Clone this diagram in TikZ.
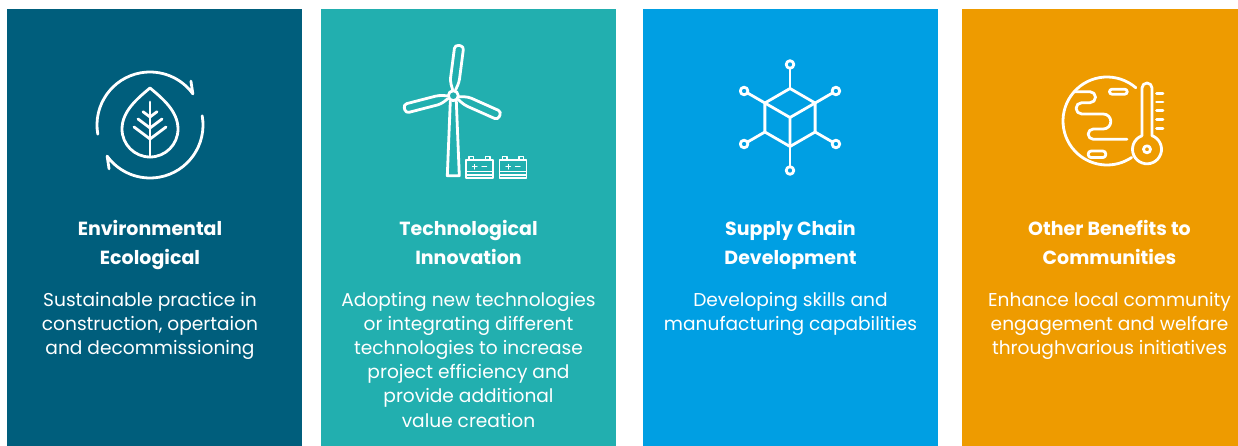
\documentclass[tikz,border=0pt]{standalone}
\usepackage{fontspec}
\setmainfont{Poppins}
\usetikzlibrary{positioning}
\definecolor{envblue}{RGB}{0,94,124}
\definecolor{techteal}{RGB}{34,175,175}
\definecolor{supplyblue}{RGB}{0,159,227}
\definecolor{otherorange}{RGB}{238,155,0}

\begin{document}
\begin{tikzpicture}[x=1pt, y=1pt,
	panel/.style={minimum width=295pt, minimum height=437pt, inner sep=0pt},
	title/.style={text=white, align=center, inner sep=0pt, font=\bfseries\fontsize{19}{29}\selectfont},
	body/.style={text=white, align=center, inner sep=0pt, font=\fontsize{18.6}{24.2}\selectfont},
	icon/.style={draw=white, line width=2.8pt, line cap=round, line join=round},
	thinicon/.style={draw=white, line width=1.3pt, line cap=round, line join=round}]
	\useasboundingbox (0,0) rectangle (1238,-446);
	\clip (0,0) rectangle (1238,-446);

	\node (p1) [panel, fill=envblue] at (154.5,-227.5) {};
	\node (p2) [panel, fill=techteal] at (468.5,-227.5) {};
	\node (p3) [panel, fill=supplyblue] at (790.5,-227.5) {};
	\node (p4) [panel, fill=otherorange] at (1109.5,-227.5) {};

	\node (t1) [title, below=211pt of p1.north, xshift=-4.5pt] {Environmental\\Ecological};
	\node (t2) [title, below=211pt of p2.north] {Technological\\Innovation};
	\node (t3) [title, below=211pt of p3.north] {Supply Chain\\Development};
	\node (t4) [title, below=211pt of p4.north] {Other Benefits to\\Communities};

	\node (b1) [body, below=283pt of p1.north, xshift=-4.5pt] {Sustainable practice in\\construction, opertaion\\and decommissioning};
	\node (b2) [body, below=283pt of p2.north] {Adopting new technologies\\or integrating different\\technologies to increase\\project efficiency and\\provide additional\\value creation};
	\node (b3) [body, below=283pt of p3.north] {Developing skills and\\manufacturing capabilities};
	\node (b4) [body, below=283pt of p4.north] {Enhance local community\\engagement and welfare\\throughvarious initiatives};

	% leaf in circular arrows
	\begin{scope}[shift={(150,-125)}]
		\draw [icon] (190:53) arc [start angle=190, end angle=36, radius=53] -- (47:60);
		\draw [icon] (10:53) arc [start angle=10, end angle=-144, radius=53] -- (-133:60);
		\draw [icon] (0,37) .. controls (12,27) and (28,14) .. (28,-4)
			arc [start angle=0, end angle=-180, radius=28] .. controls (-28,14) and (-12,27) .. cycle;
		\draw [icon] (0,23) -- (0,-32);
		\foreach \y/\w in {8/7, -3/12, -14/16}
			\draw [icon] (-\w,\y+0.75*\w) -- (0,\y) -- (\w,\y+0.75*\w);
	\end{scope}

	% wind turbine and batteries
	\begin{scope}[shift={(453.3,-95.7)}]
		\draw [icon] (0,0) circle [radius=5];
		\draw [icon] (-3,-5.5) -- (-6,-80) -- (6,-80) -- (3,-5.5);
		\foreach \a in {82.6, 194.5, 336}
			\draw [icon, rotate=\a, rounded corners=3.5pt] (6,1.5) -- (14,5) -- (50.5,5) -- (50.5,-4) -- (14,-4) -- (6,-1.5);
	\end{scope}
	\foreach \bx in {466,499.5} {
		\draw [thinicon] (\bx,-178) rectangle ++(27,18);
		\draw [thinicon] (\bx+3,-160) -- ++(0,3.5) -- ++(4.5,0) -- ++(0,-3.5);
		\draw [thinicon] (\bx+19.5,-160) -- ++(0,3.5) -- ++(4.5,0) -- ++(0,-3.5);
		\draw [thinicon] (\bx+6.5,-166.7) -- ++(4.5,0) (\bx+8.75,-164.45) -- ++(0,-4.5);
		\draw [thinicon] (\bx+16,-166.7) -- ++(4.5,0);
		\draw [thinicon] (\bx,-171.7) -- ++(27,0) (\bx,-175) -- ++(27,0);
	}

	% cube network
	\begin{scope}[shift={(790,-117.5)}]
		\foreach \a in {30,90,...,330} {
			\draw [icon] (\a:29) -- (\a:49.2);
			\draw [icon] (\a:53) circle [radius=3.8];
		}
		\draw [icon] (30:29) -- (90:29) -- (150:29) -- (210:29) -- (270:29) -- (330:29) -- cycle;
		\draw [icon] (150:29) -- (0,0) -- (30:29) (0,0) -- (270:29);
	\end{scope}

	% globe and thermometer
	\begin{scope}[shift={(1107,-121)}]
		\draw [icon] (49:44) arc [start angle=49, end angle=304, radius=44];
		\draw [icon] (-32.8,29.3) -- (-17,29.3) arc [start angle=90, end angle=-90, radius=5.5]
			-- (-25.3,18.3) arc [start angle=90, end angle=270, radius=5.65]
			-- (-3.7,7) arc [start angle=90, end angle=-90, radius=7.5]
			-- (-13.7,-8) arc [start angle=90, end angle=270, radius=5.15]
			-- (20,-18.3);
		\draw [icon, rounded corners=2.5pt] (2.5,26.8) rectangle (20.2,31.8);
		\draw [icon, rounded corners=3pt] (-18.8,-36.6) rectangle (-1.2,-30);
		\draw [icon] (35,-14.7) -- (35,33) arc [start angle=180, end angle=0, radius=5]
			-- (45,-14.7) arc [start angle=69.8, end angle=-249.8, radius=14.5];
		\draw [icon] (40,-28.3) circle [radius=3.5];
		\foreach \y in {27.7, 19, 10.2, 1.5, -7.3}
			\draw [icon] (49.5,\y) -- (56,\y);
	\end{scope}
\end{tikzpicture}
\end{document}
